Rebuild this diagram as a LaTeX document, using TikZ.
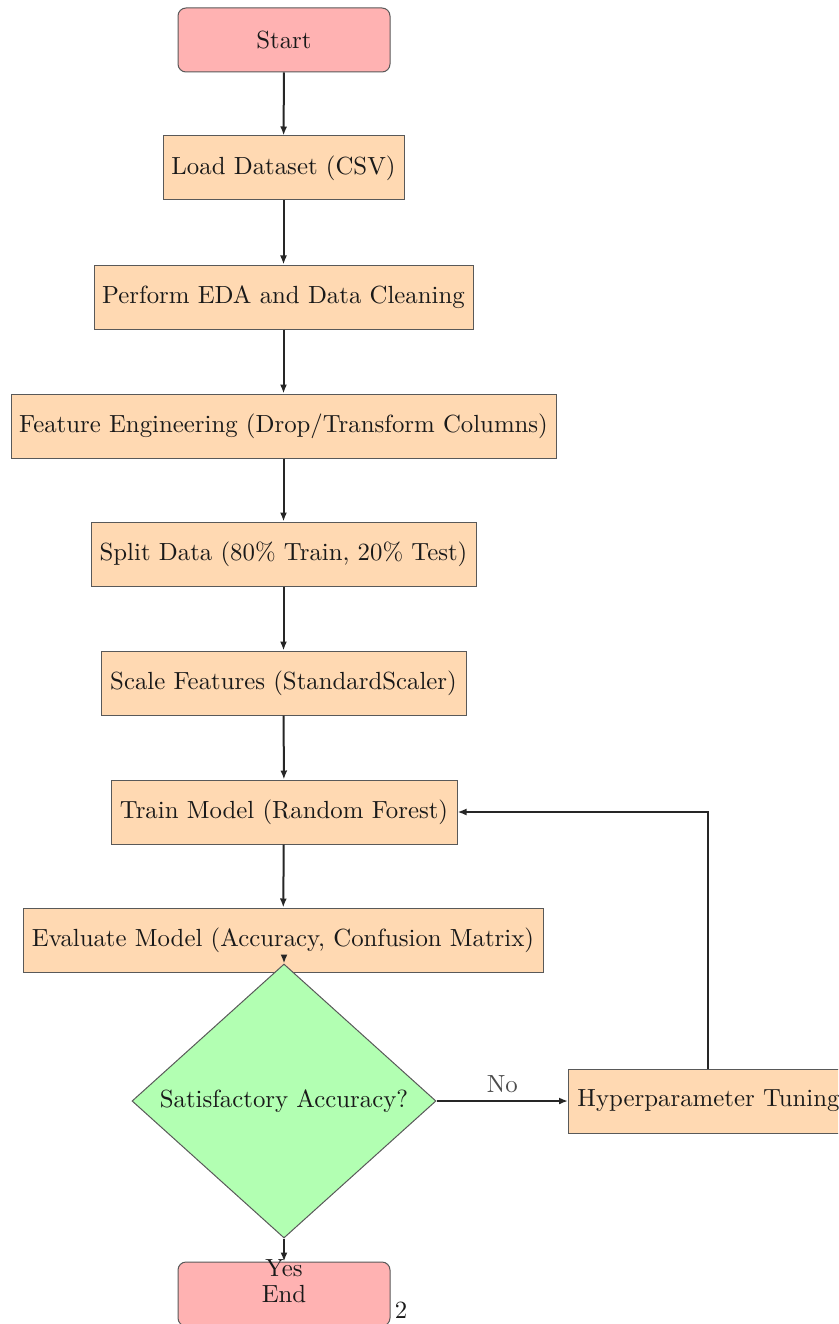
\documentclass[tikz,border=0pt]{standalone}
\usepackage{graphicx}
\usetikzlibrary{arrows.meta,shapes.geometric}
\newcommand{\T}[1]{\scalebox{2.48}{#1}}
\begin{document}
\begin{tikzpicture}[x=1pt,y=-1pt,
  every node/.style={font=\fontsize{10}{12}\selectfont, text=black!90},
  proc/.style={rectangle, draw=black!65, line width=1pt, fill=orange!30, minimum height=64pt, inner sep=0pt},
  term/.style={rectangle, rounded corners=8pt, draw=black!65, line width=1pt, fill=red!30, minimum width=212pt, minimum height=64pt, inner sep=0pt},
  dec/.style={diamond, draw=black!65, line width=1pt, fill=green!30, minimum width=304pt, minimum height=274pt, inner sep=0pt},
  arr/.style={line width=2pt, draw=black!85, -{Latex[length=9pt,width=7pt]}}]
\useasboundingbox (0,0) rectangle (838,1324);
\clip (0,0) rectangle (838,1324);
\node[term] (start) at (284,40) {\T{Start}};
\node[proc, minimum width=241pt] (load) at (283.5,168) {\T{Load Dataset (CSV)}};
\node[proc, minimum width=379pt] (eda) at (283.5,297) {\T{Perform EDA and Data Cleaning}};
\node[proc, minimum width=545pt] (feat) at (283.5,426) {\T{Feature Engineering (Drop/Transform Columns)}};
\node[proc, minimum width=385pt] (split) at (283.5,554) {\T{Split Data (80\% Train, 20\% Test)}};
\node[proc, minimum width=365pt] (scale) at (283.5,683) {\T{Scale Features (StandardScaler)}};
\node[proc, minimum width=346pt] (train) at (284,812) {\T{Train Model (Random Forest)}};
\node[proc, minimum width=520pt] (eval) at (283,940) {\T{Evaluate Model (Accuracy, Confusion Matrix)}};
\node[dec] (decide) at (284,1101) {\T{Satisfactory Accuracy?}};
\node[proc, minimum width=280pt, anchor=west] (tune) at (568,1101) {\T{Hyperparameter Tuning}};
\node[term] (end) at (284,1294) {\T{End}};
\node (yes) at (284,1268) {\T{Yes}};
\node (page) at (401,1310) {\T{2}};
\draw[arr] (start) -- (load);
\draw[arr] (load) -- (eda);
\draw[arr] (eda) -- (feat);
\draw[arr] (feat) -- (split);
\draw[arr] (split) -- (scale);
\draw[arr] (scale) -- (train);
\draw[arr] (train) -- (eval);
\draw[arr] ([yshift=6pt]decide.north) -- (decide.north);
\draw[arr] (decide.south) -- (end.north);
\draw[arr] (decide.east) -- node[above=4pt, text=black!70] {\T{No}} (tune.west);
\coordinate (corner) at (708,812);
\draw[arr] (tune.north -| corner) -- (corner) -- (train.east);
\end{tikzpicture}
\end{document}
